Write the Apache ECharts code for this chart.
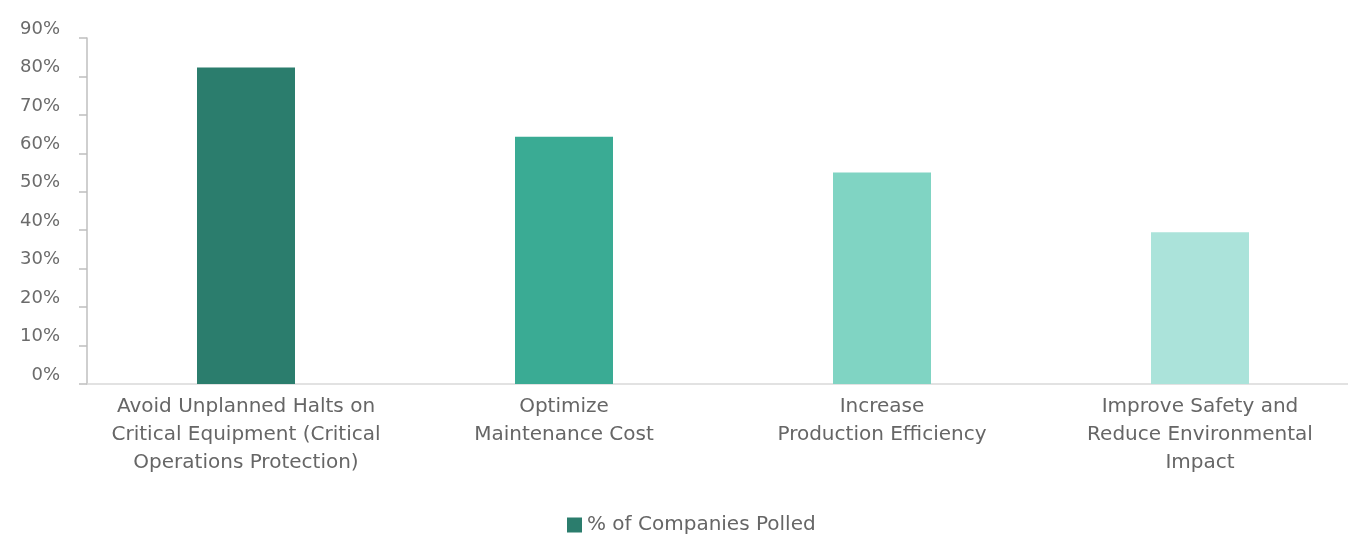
<!DOCTYPE html>
<html>
<head>
<meta charset="utf-8">
<script src="https://cdn.jsdelivr.net/npm/echarts@6/dist/echarts.min.js"></script>
<style>html,body{margin:0;padding:0;background:#fff;}#c{width:1348px;height:538px;}</style>
</head>
<body>
<div id="c"></div>
<script>
const categories = [
  "Avoid Unplanned Halts on\nCritical Equipment (Critical\nOperations Protection)",
  "Optimize\nMaintenance Cost",
  "Increase\nProduction Efficiency",
  "Improve Safety and\nReduce Environmental\nImpact"
];
const values = [82.3, 64.3, 55, 39.5];
const barColors = ["#2B7D6D", "#3AAB94", "#80D4C3", "#ABE3DA"];
const seriesName = "% of Companies Polled";

const FONT = "DejaVu Sans";
const chart = echarts.init(document.getElementById('c'));
chart.setOption({
  animation: false,
  textStyle: { fontFamily: FONT },
  grid: { left: 87, width: 1272, top: 38, bottom: 154, containLabel: false, outerBoundsMode: 'none' },
  legend: {
    data: [{ name: seriesName, itemStyle: { color: barColors[0] } }],
    top: 510,
    left: 562,
    itemWidth: 15, itemHeight: 15, itemGap: 10,
    icon: 'rect',
    textStyle: { fontSize: 20, color: '#666666', fontFamily: FONT }
  },
  xAxis: {
    type: 'category',
    data: categories,
    axisLine: { show: true, lineStyle: { color: '#D9D9D9', width: 1.5 } },
    axisTick: { show: false },
    axisLabel: { color: '#666666', fontSize: 20, lineHeight: 28, margin: 9, interval: 0, fontFamily: FONT }
  },
  yAxis: {
    type: 'value',
    min: 0, max: 90, interval: 10,
    splitLine: { show: false },
    axisLine: { show: true, lineStyle: { color: '#BFBFBF', width: 1.5 } },
    axisTick: { show: true, inside: false, length: 8, lineStyle: { color: '#BFBFBF', width: 1.5 } },
    axisLabel: { formatter: '{value}%', color: '#6B6B6B', fontSize: 18, margin: 27, verticalAlign: 'bottom', fontFamily: FONT }
  },
  series: [{
    name: seriesName,
    type: 'bar',
    barWidth: 98,
    data: values.map((v, i) => ({ value: v, itemStyle: { color: barColors[i] } }))
  }]
});
</script>
</body>
</html>
